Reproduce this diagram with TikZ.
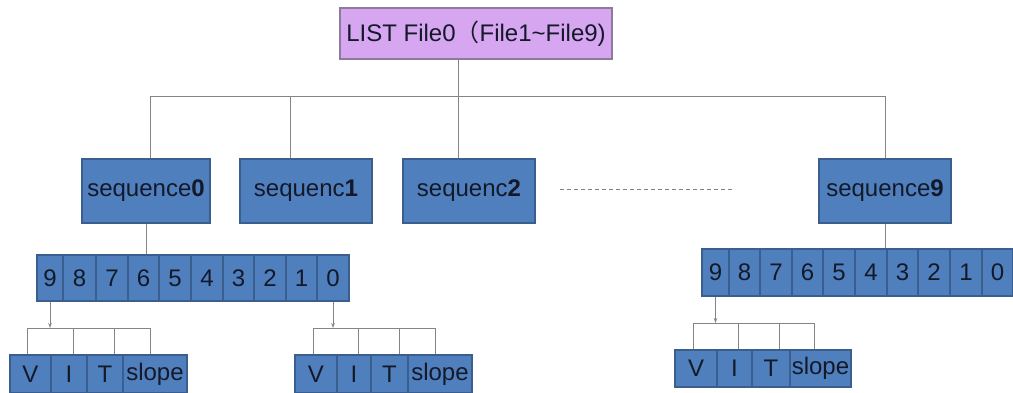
\documentclass[tikz,border=0pt]{standalone}
\usepackage{fontspec}
\setmainfont{Liberation Sans}
\newfontfamily\cjk{Noto Sans CJK SC}
\usetikzlibrary{arrows.meta}
\definecolor{boxblue}{HTML}{4F7FBC}
\definecolor{boxedge}{HTML}{3A5F8F}
\definecolor{lilac}{HTML}{D6A6F0}
\definecolor{lilacedge}{HTML}{8E7A9A}
\definecolor{conn}{HTML}{858585}
\definecolor{ink}{HTML}{14192A}
\begin{document}
\begin{tikzpicture}[x=1pt,y=-1pt,
  base/.style={draw=boxedge, line width=1.2pt, fill=boxblue, text=ink, inner sep=0pt,
    font=\fontsize{24}{28}\selectfont},
  seqbox/.style={base, minimum width=131pt, minimum height=64pt},
  topbox/.style={draw=lilacedge, line width=1.2pt, fill=lilac, text=ink, inner sep=0pt,
    minimum width=272pt, minimum height=51pt, font=\fontsize{24}{28}\selectfont},
  wire/.style={draw=conn, line width=1pt},
  arrowwire/.style={wire, -{Stealth[length=5pt,width=3.5pt]}},
  dashwire/.style={draw=conn, line width=1pt, dashed, dash pattern=on 4pt off 3pt}
]
\useasboundingbox (0,0) rectangle (1013,392);

% top
\node[topbox] (top) at (476,33.5) {LIST File0{\cjk （}File1\textasciitilde File9)};

% sequence boxes
\node[seqbox, minimum width=128pt] (seq0) at (146,191) {sequence\textbf{0}};
\node[seqbox, minimum width=132pt] (seq1) at (306,191) {sequenc\textbf{1}};
\node[seqbox, minimum width=132pt] (seq2) at (469,191) {sequenc\textbf{2}};
\node[seqbox, minimum width=132pt] (seq9) at (885,191) {sequence\textbf{9}};

% bus
\coordinate (b0) at (150,96);
\coordinate (b1) at (290,96);
\coordinate (b2) at (458,96);
\coordinate (b9) at (885,96);
\draw[wire] (b2 |- top.south) -- (b2);
\draw[wire] (b0) -- (b9);
\draw[wire] (b0) -- (b0 |- seq0.north);
\draw[wire] (b1) -- (b1 |- seq1.north);
\draw[wire] (b2) -- (b2 |- seq2.north);
\draw[wire] (b9) -- (seq9.north);

% dashed ellipsis
\coordinate (d1) at (560,189);
\coordinate (d2) at (735,189);
\draw[dashwire] (d1) -- (d2);

% array for sequence0
\foreach \a/\b/\t [count=\i] in {37/63/9,63/96/8,96/128/7,128/159/6,159/191/5,191/223/4,223/254/3,254/286/2,286/317/1,317/349/0}
  \node[base, minimum width={(\b-\a)*1pt}, minimum height=46pt] (sa\i) at ({(\a+\b)/2},278) {\t};
% array for sequence9
\foreach \a/\b/\t [count=\i] in {702/729/9,729/760/8,760/792/7,792/823/6,823/855/5,855/887/4,887/918/3,918/950/2,950/982/1,982/1013/0}
  \node[base, minimum width={(\b-\a)*1pt}, minimum height=47pt] (sb\i) at ({(\a+\b)/2},272.5) {\t};

\draw[wire] (seq0.south) -- (seq0.south |- sa1.north);
\draw[wire] (seq9.south) -- (seq9.south |- sb1.north);

% VIT groups
\foreach \a/\b/\t [count=\i] in {10/51/V,51/87/I,87/123/T,123/187/slope}
  \node[base, minimum width={(\b-\a)*1pt}, minimum height=38pt] (va\i) at ({(\a+\b)/2},374) {\t};
\foreach \a/\b/\t [count=\i] in {295/337/V,337/371/I,371/408/T,408/472/slope}
  \node[base, minimum width={(\b-\a)*1pt}, minimum height=38pt] (vb\i) at ({(\a+\b)/2},374) {\t};
\foreach \a/\b/\t [count=\i] in {675/717/V,717/752/I,752/790/T,790/851/slope}
  \node[base, minimum width={(\b-\a)*1pt}, minimum height=37pt] (vc\i) at ({(\a+\b)/2},368.5) {\t};

% brackets group A
\coordinate (pa1) at (27,328);
\coordinate (pa2) at (73,328);
\coordinate (pa3) at (114,328);
\coordinate (pa4) at (150,328);
\draw[arrowwire] (sa1.south) -- (sa1.south |- pa1);
\draw[wire] (pa1 |- va1.north) -- (pa1) -- (pa4) -- (pa4 |- va4.north);
\draw[wire] (pa2) -- (pa2 |- va2.north);
\draw[wire] (pa3) -- (pa3 |- va3.north);

% brackets group B
\coordinate (pb1) at (313,328);
\coordinate (pb2) at (358,328);
\coordinate (pb3) at (399,328);
\coordinate (pb4) at (435,328);
\draw[arrowwire] (sa10.south) -- (sa10.south |- pb1);
\draw[wire] (pb1 |- vb1.north) -- (pb1) -- (pb4) -- (pb4 |- vb4.north);
\draw[wire] (pb2) -- (pb2 |- vb2.north);
\draw[wire] (pb3) -- (pb3 |- vb3.north);

% brackets group C
\coordinate (pc1) at (693,323);
\coordinate (pc2) at (738,323);
\coordinate (pc3) at (779,323);
\coordinate (pc4) at (814,323);
\draw[arrowwire] (sb1.south) -- (sb1.south |- pc1);
\draw[wire] (pc1 |- vc1.north) -- (pc1) -- (pc4) -- (pc4 |- vc4.north);
\draw[wire] (pc2) -- (pc2 |- vc2.north);
\draw[wire] (pc3) -- (pc3 |- vc3.north);
\end{tikzpicture}
\end{document}
